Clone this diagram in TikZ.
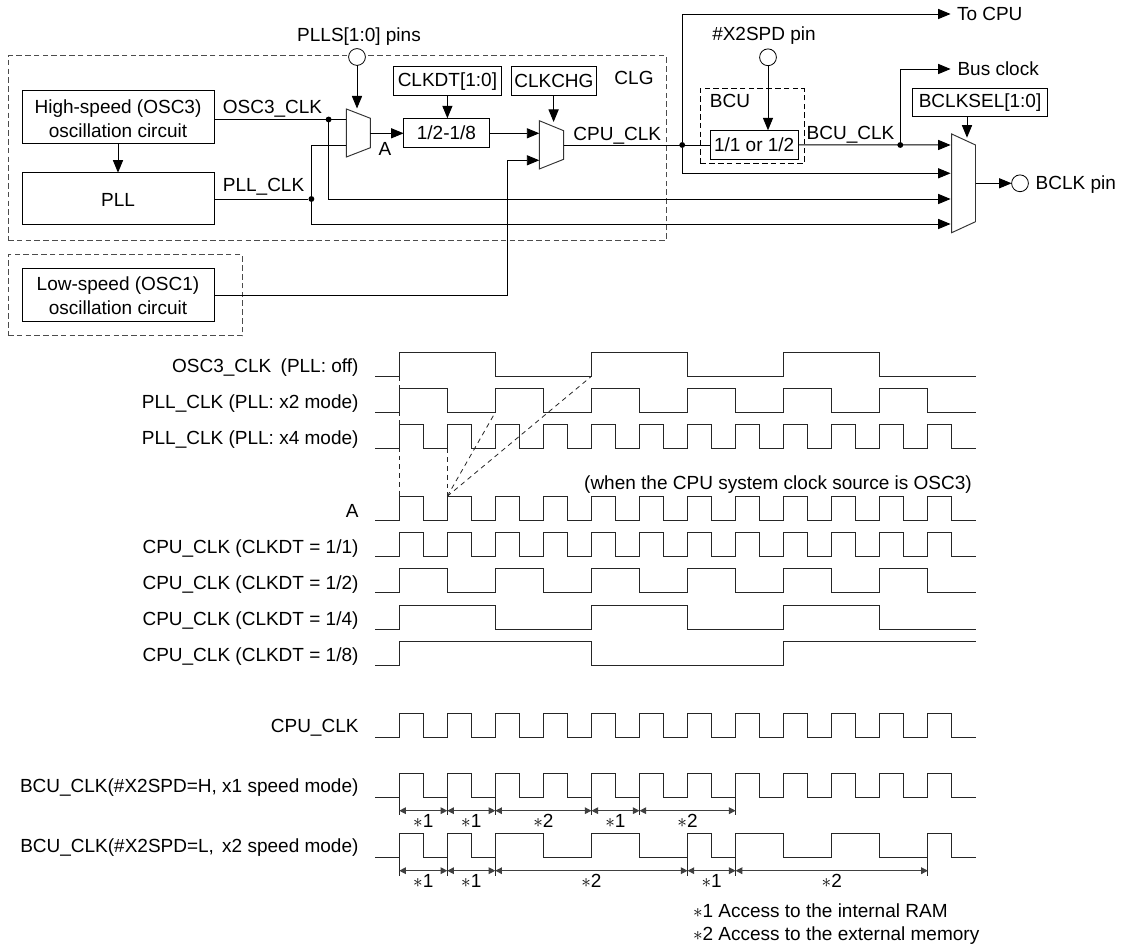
\documentclass[tikz,border=0pt]{standalone}
\usepackage{fontspec}
\setmainfont{Liberation Sans}
\usetikzlibrary{arrows.meta,calc}
\tikzset{
  x=0.75pt,y=-0.75pt,
  every node/.style={font=\fontsize{14.25}{18}\selectfont,inner sep=0pt,outer sep=0pt},
  wire/.style={line width=0.72pt,black,line join=miter},
  arr/.style={wire,-{Triangle[length=9.4pt,width=7.6pt]}},
  sarr/.style={line width=0.8pt,black!75,{Triangle[length=5pt,width=5pt]}-{Triangle[length=5pt,width=5pt]}},
  boxn/.style={draw,line width=0.75pt,align=center},
  dashn/.style={draw=black!70,line width=0.75pt,dash pattern=on 4.2pt off 2.4pt},
  pin/.style={circle,draw,fill=white,line width=0.6pt,minimum size=12.6pt},
  dot/.style={circle,fill=black,minimum size=4.4pt},
  guide/.style={line width=0.6pt,black!85,dash pattern=on 3.6pt off 3pt},
  sig/.style={line width=0.75pt,black!85,line join=miter},
  tick/.style={line width=0.75pt,black!85}
}
\newcommand{\pbox}[7][boxn]{\node[#1,minimum width={(#4-#2)*0.75pt},minimum height={(#5-#3)*0.75pt}] (#6) at ({(#2+#4)/2},{(#3+#5)/2}) {#7};}
\newcommand{\lab}[5][base]{\node[anchor=#1] (#2) at (#3,#4) {#5};}
\newcommand{\wave}[2]{\draw[sig] (375,#1) \foreach \r/\f in {#2} { -- ({399.2+24.03*\r},#1) -- ({399.2+24.03*\r},#1-24) -- ({399.2+24.03*\f},#1-24) -- ({399.2+24.03*\f},#1) } -- (975.9,#1);}
\newcommand{\sarrow}[5]{%
  \coordinate (sa) at ({399.2+24.03*#3},#2);
  \coordinate (sb) at ({399.2+24.03*#4},#2);
  \draw[sarr] (sa) -- (sb);
  \node (#1) at ({399.2+24.03*(#3+#4)/2},#2+10) {$\ast$#5};
}
\newcommand{\stick}[3]{\draw[tick] ({399.2+24.03*#3},#1) -- ({399.2+24.03*#3},#2);}
\begin{document}
\begin{tikzpicture}
\useasboundingbox (0,0) rectangle (1127,944);
\fill[white] (0,0) rectangle (1127,944);
% dashed regions
\pbox[dashn]{8}{56}{666}{241}{clg}{}
\pbox[dashn]{8}{255}{242}{336}{osc1reg}{}
\pbox[dashn,draw=black]{700.3}{88.7}{804}{164}{bcu}{}
% boxes
\pbox{22}{90.5}{214}{143.7}{hs}{\rule{0pt}{12.6pt}High-speed (OSC3)\\oscillation circuit}
\pbox{22}{172.7}{214}{225}{pll}{\rule{0pt}{11pt}PLL}
\pbox{22}{269}{214}{321.7}{ls}{\rule{0pt}{11.6pt}Low-speed (OSC1)\\oscillation circuit}
\pbox{403.6}{118.3}{489.3}{147.7}{div}{1/2-1/8}
\pbox{393}{66.7}{501.8}{95.7}{clkdt}{CLKDT[1:0]}
\pbox{511.8}{66.7}{596}{95.7}{clkchg}{CLKCHG}
\pbox{710}{130.3}{798.3}{159.3}{bdiv}{1/1 or 1/2}
\pbox{912.6}{88.7}{1047.5}{117}{bsel}{BCLKSEL[1:0]}
% multiplexers
\draw[wire,black!80] (346.4,109) coordinate (m1tl) -- (370.4,118.3) -- (370.4,147.7) -- (346.4,157) -- cycle;
\draw[wire,black!80] (539.3,120.7) -- (563.6,130.7) -- (563.6,159.3) -- (539.3,169) -- cycle;
\draw[wire,black!80] (951.7,134) -- (975.5,145) -- (975.5,221.7) -- (951.7,232.7) -- cycle;
% named points
\coordinate (m1a) at (346.4,119.5);
\coordinate (m1b) at (346.4,145.7);
\coordinate (m1s) at (357,108.5);
\coordinate (m1o) at (370.4,133.3);
\coordinate (m2a) at (539.3,133.3);
\coordinate (m2b) at (539.3,160.3);
\coordinate (m2s) at (553.6,122);
\coordinate (m2o) at (563.6,145);
\coordinate (m3a) at (950.6,145);
\coordinate (m3b) at (950.6,173.3);
\coordinate (m3c) at (950.6,199);
\coordinate (m3d) at (950.6,224);
\coordinate (m3s) at (967,137.7);
\coordinate (m3o) at (975.5,183.3);
\coordinate (cpuout) at (950.6,14);
\coordinate (busout) at (950.6,69);
% pins and junctions
\node[pin] (pllspin) at (357,57) {};
\node[pin] (x2pin) at (768,57.3) {};
\node[pin] (bclkpin) at (1020,183.3) {};
\node[dot] (j1) at (328.6,119.5) {};
\node[dot] (j2) at (311.4,199) {};
\node[dot] (j3) at (682.2,145) {};
\node[dot] (j4) at (900.3,145) {};
% connectors
\draw[arr] (hs.south) -- (pll.north);
\draw[wire] (hs.east |- m1a) -- (m1a);
\draw[wire] (pll.east |- j2) -- (j2);
\draw[wire] (j2) |- (m1b);
\draw[arr] (pllspin.south) -- (m1s);
\draw[arr] (m1o) -- (m1o -| div.west);
\draw[arr] (clkdt.south) -- (clkdt.south |- div.north);
\draw[arr] (div.east |- m2a) -- (m2a);
\draw[arr] (clkchg.south -| m2s) -- (m2s);
\draw[arr] (ls.east) -| (507.5,160.3) -- (m2b);
\draw[wire] (m2o) -- (m2o -| bdiv.west);
\draw[arr] (j3) |- (cpuout);
\draw[arr] (j3) |- (m3b);
\draw[arr] (x2pin.south) -- (x2pin.south |- bdiv.north);
\draw[arr] (bdiv.east) -- (m3a);
\draw[arr] (j4) |- (busout);
\draw[arr] (j1) |- (m3c);
\draw[arr] (j2) |- (m3d);
\draw[arr] (bsel.south -| m3s) -- (m3s);
\draw[arr,shorten >=0pt] (m3o) -- (bclkpin.west);
% diagram labels
\lab{t1}{359}{41.7}{PLLS[1:0] pins}
\lab[base west]{t2}{222.9}{114}{OSC3\_CLK}
\lab[base west]{t3}{222.9}{192}{PLL\_CLK}
\lab{t4}{385}{156}{A}
\lab{t5}{634}{85}{CLG}
\lab{t6}{730}{108}{BCU}
\lab[base west]{t7}{573.4}{141}{CPU\_CLK}
\lab[base west]{t8}{806.7}{139.5}{BCU\_CLK}
\lab{t9}{764}{40.5}{\#X2SPD pin}
\lab[base west]{t10}{957}{20.5}{To CPU}
\lab[base west]{t11}{957.5}{75.5}{Bus clock}
\lab[base west]{t12}{1035.6}{189.5}{BCLK pin}
% waveform labels
\lab[base east]{w1}{358.5}{373}{OSC3\_CLK \kern3pt(PLL: off)}
\lab[base east]{w2}{358.5}{409}{PLL\_CLK (PLL: x2 mode)}
\lab[base east]{w3}{358.5}{445}{PLL\_CLK (PLL: x4 mode)}
\lab[base east]{w4}{358.5}{517}{A}
\lab[base east]{w5}{358.5}{553}{CPU\_CLK (CLKDT = 1/1)}
\lab[base east]{w6}{358.5}{589}{CPU\_CLK (CLKDT = 1/2)}
\lab[base east]{w7}{358.5}{625}{CPU\_CLK (CLKDT = 1/4)}
\lab[base east]{w8}{358.5}{661}{CPU\_CLK (CLKDT = 1/8)}
\lab[base east]{w9}{358.5}{732}{CPU\_CLK}
\lab[base east]{w10}{358.5}{792}{BCU\_CLK(\#X2SPD=H, x1 speed mode)}
\lab[base east]{w11}{358.5}{852}{BCU\_CLK(\#X2SPD=L,\kern2.2pt{} x2 speed mode)}
\lab[base east]{w12}{971.7}{489}{(when the CPU system clock source is OSC3)}
% waveforms
\wave{376.3}{0/4,8/12,16/20}
\wave{412.3}{0/2,4/6,8/10,12/14,16/18,20/22}
\wave{448.3}{0/1,2/3,4/5,6/7,8/9,10/11,12/13,14/15,16/17,18/19,20/21,22/23}
\wave{520.3}{0/1,2/3,4/5,6/7,8/9,10/11,12/13,14/15,16/17,18/19,20/21,22/23}
\wave{556.5}{0/1,2/3,4/5,6/7,8/9,10/11,12/13,14/15,16/17,18/19,20/21,22/23}
\wave{592.7}{0/2,4/6,8/10,12/14,16/18,20/22}
\wave{629}{0/4,8/12,16/20}
\draw[sig] (375,665) -| (399.2,641) -| (591.44,665) -| (783.68,641) -- (975.9,641);
\wave{737}{0/1,2/3,4/5,6/7,8/9,10/11,12/13,14/15,16/17,18/19,20/21,22/23}
\wave{797}{0/1,2/3,4/5,6/7,8/9,10/11,12/13,14/15,16/17,18/19,20/21,22/23}
\wave{857}{0/1,2/3,4/6,8/10,12/13,14/16,18/20,22/23}
% timing guides
\coordinate (ga) at (399.2,376.3);
\coordinate (gb) at (399.2,496.3);
\coordinate (gc) at (447.26,448.3);
\coordinate (gd) at (447.26,496.3);
\coordinate (ge) at (495.32,412.3);
\coordinate (gf) at (591.44,376.3);
\draw[guide] (ga) -- (gb);
\draw[guide] (gc) -- (gd);
\draw[guide] (gd) -- (ge);
\draw[guide] (gd) -- (gf);
% access spans
\foreach \k in {0,2,4,8,10,14} {\stick{797}{815}{\k}}
\foreach \k in {0,2,4,12,14,22} {\stick{857}{876}{\k}}
\sarrow{a}{810.7}{0}{2}{1}
\sarrow{b}{810.7}{2}{4}{1}
\sarrow{c}{810.7}{4}{8}{2}
\sarrow{d}{810.7}{8}{10}{1}
\sarrow{e}{810.7}{10}{14}{2}
\sarrow{f}{870.7}{0}{2}{1}
\sarrow{g}{870.7}{2}{4}{1}
\sarrow{h}{870.7}{4}{12}{2}
\sarrow{i}{870.7}{12}{14}{1}
\sarrow{j}{870.7}{14}{22}{2}
\lab[base west]{n1}{693}{917}{$\ast$1 Access to the internal RAM}
\lab[base west]{n2}{693}{940}{$\ast$2 Access to the external memory}
\end{tikzpicture}
\end{document}
